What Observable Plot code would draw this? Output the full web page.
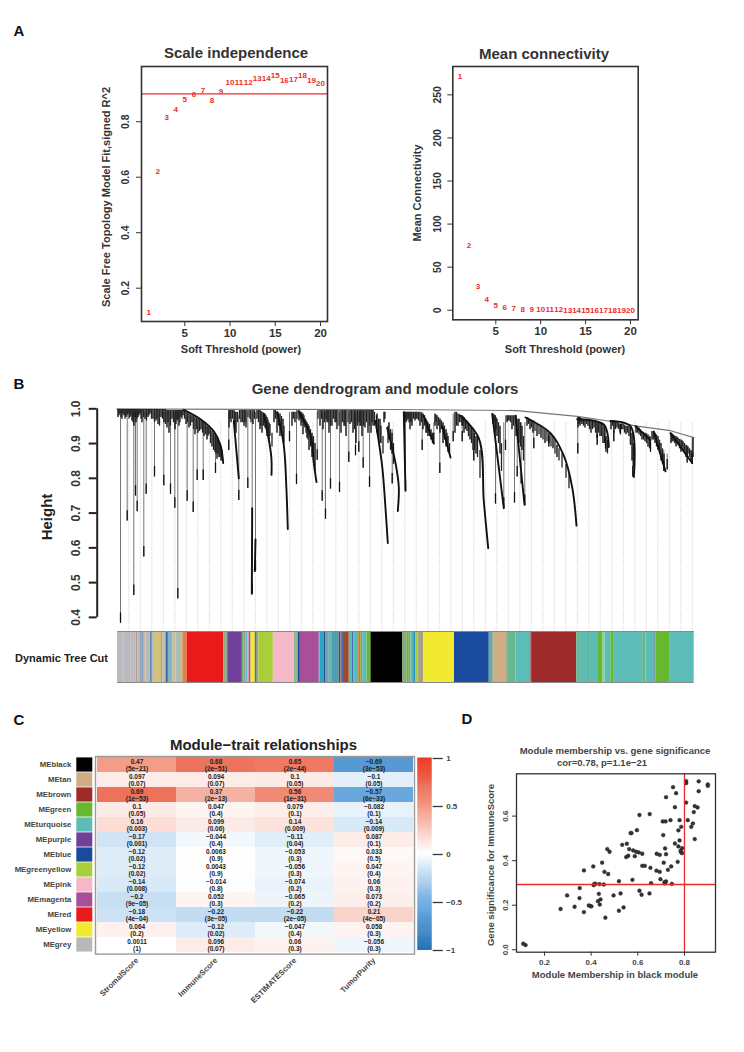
<!DOCTYPE html>
<html>
<head>
<meta charset="utf-8">
<script src="https://cdn.jsdelivr.net/npm/d3@7"></script>
<script src="https://cdn.jsdelivr.net/npm/@observablehq/plot@0.6"></script>
<style>
html,body{margin:0;padding:0;background:#fff}
#page{position:relative;width:744px;height:1052px;overflow:hidden;font-family:"Liberation Sans",Arial,sans-serif;color:#333}
#page svg{position:absolute;overflow:visible;background:transparent}
.t{position:absolute;white-space:nowrap;line-height:1;transform-origin:center}
</style>
</head>
<body>
<div id="page"></div>
<script>
// ---------- Panel A ----------
const powers = [1,2,3,4,5,6,7,8,9,10,11,12,13,14,15,16,17,18,19,20];
const fitR2 = [.113,.62,.817,.843,.881,.90,.912,.875,.909,.941,.943,.943,.957,.955,.966,.947,.953,.966,.949,.937];
const meanK = [271.6,75,28,12.4,5.8,3,2,1.2,.8,.5,.4,.4,.3,.3,.2,.2,.2,.1,.1,.1];

// ---------- Panel B ----------
const moduleHex = {black:"#000000",tan:"#cfae84",brown:"#9e2a2b",green:"#66b82e",turquoise:"#5cbdb8",purple:"#70409a",blue:"#1a4a9e",greenyellow:"#a8cf3a",pink:"#f4b8c8",magenta:"#a84f9a",red:"#ea1a1a",yellow:"#f2ea30",grey:"#b9b9b9"};
const barEdges = [0,5.2,6.2,11.8,13.5,18.5,20.2,22.2,26.8,28.2,32.8,34.8,36.8,44.2,45.2,48.5,50.8,55.2,58.5,60.2,61.8,65.2,69.5,106.2,110.2,124.8,126.2,128.5,130.5,131.8,133.5,137.8,138.8,141.2,155.8,176.8,180.8,182.8,201.8,202.8,206.8,208.5,211.8,214.2,221.8,223.5,225.2,226.8,231.8,235.2,236.2,241.2,243.5,245.2,249.5,253.5,285,289.5,291.8,293.5,296.2,298.5,300.8,301.8,306.2,337,371.8,375.8,389.2,390.8,398.5,413.5,414.2,459.2,464,470,473,480.2,485.2,487.5,493.5,496.8,525.2,528.5,536.2,538.5,552.2,576.8];
const barColors = ["#b9b9b9","#b4a8cc","#b9b9b9","#c7a8a8","#b8bcc4","#b89a8c","#b9b9b9","#8fa8c0","#c9b8a0","#b9b9b9","#5b8fc0","#b9b9b9","#d2c27b","#8a70b0","#c0bfa8","#3f63b0","#7fb8c0","#c7bd9c","#b9b9b9","#78b8b8","#c9b890","#d9854a","#ea1a1a","#8fae86","#70409a","#6fb060","#9a9a9a","#5cbdb8","#d9a0b0","#a84f9a","#f2ea30","#1a4a9e","#9a9a9a","#a8cf3a","#f4b8c8","#90b88a","#1a4a9e","#a84f9a","#5cbdb8","#2aa6c0","#1a4a9e","#7aa0a8","#5cbdb8","#4f9fb0","#9e2a2b","#708090","#1a4a9e","#9e4a2b","#5cbdb8","#1a4a9e","#5cbdb8","#d9742a","#66b82e","#5cbdb8","#66b82e","#000000","#8aa885","#66b82e","#999988","#5cbdb8","#2a8fc0","#a8cf3a","#9a9a80","#a8a080","#f2ea30","#1a4a9e","#6aa8a0","#cfae84","#8a9a80","#66b88a","#5cbdb8","#9e2a2b","#9e2a2b","#6ab89a","#5cbdb8","#66b88a","#5cbdb8","#66b82e","#8fd08a","#5cbdb8","#66b82e","#5cbdb8","#66b88a","#5cbdb8","#7a9aa8","#66b82e","#5cbdb8"];
const guideLeaves = [11.8,23.3,34.8,46.3,57.8,69.3,80.8,92.3,103.8,115.3,126.8,138.3,149.8,161.3,172.8,184.3,195.8,207.3,218.8,230.3,241.8,253.3,264.8,276.3,287.8,299.3,310.8,322.3,333.8,345.3,356.8,368.3,379.8,391.3,402.8,414.3,425.8,437.3,448.8,460.3,471.8,483.3,494.8,506.3,517.8,529.3,540.8,552.3,563.8,575.3];
const envelope = [[0,1],[50,.999],[280,.998],[400,.995],[460.2,.978],[486.8,.967],[520.2,.95],[553.5,.937],[576.8,.917]];
// leaf, lowest height, highest height
const bigDrops = [[3.5,.383,.99],[10.2,.677,.99],[16.8,.463,.99],[18.5,.749,.99],[20.2,.704,.99],[26.8,.574,.99],[29.2,.754,.99],[37.5,.804,.99],[46.8,.779,.99],[53.5,.754,.99],[57.8,.714,.99],[60.8,.453,.99],[70.2,.734,.98],[76.2,.702,.97],[80.2,.794,.97],[86.2,.794,.96],[98.5,.814,.92],[111.8,.88,.99],[121.8,.736,.98],[130.8,.771,.99],[135.2,.468,.99],[138.5,.533,.99],[172.5,.905,.99],[179.5,.782,.99],[200.2,.852,.99],[205.2,.734,.99],[208.5,.682,.99],[213.5,.769,.99],[222.5,.759,.99],[231.8,.846,.99],[238.5,.865,.99],[241.8,.875,.99],[246.2,.829,.99],[252.5,.774,.99],[275.2,.784,.94],[288.5,.764,.99],[305.2,.88,.99],[316.8,.9,.96],[322.8,.814,.97],[336.2,.905,.985],[345.2,.905,.98],[356.8,.85,.93],[378.5,.726,.98],[386.8,.714,.96],[388.5,.88,.98],[397.5,.729,.98],[400.2,.804,.97],[404.2,.784,.96],[407.8,.722,.96],[416.8,.885,.965],[431.8,.89,.93],[460.8,.87,.975],[480.2,.895,.96],[488.5,.885,.95],[496.8,.905,.96],[503.5,.925,.955],[513.5,.895,.948],[515.8,.804,.93],[533.5,.875,.92],[546.8,.82,.88],[550.2,.824,.87],[570.2,.844,.89],[575.2,.84,.914]];
const arms = [
 [[66.8,.997],[83.5,.97],[96.8,.935],[103.5,.895],[106.2,.844]],
 [[160.2,.99],[166.8,.895],[169.5,.764],[170.8,.654]],
 [[181.8,.99],[193.5,.925],[196.8,.844],[199.5,.789]],
 [[116.8,.965],[121.8,.80]],
 [[146.8,.985],[154.2,.865],[154.5,.81]],
 [[135.2,.714],[134.8,.468]],
 [[138.5,.624],[137.8,.533]],
 [[258.5,.965],[265.2,.834],[268.5,.714],[270.8,.614]],
 [[270.2,.945],[278.5,.844],[281.8,.774],[280.8,.706]],
 [[343.5,.98],[361.8,.915],[366.8,.734],[371.2,.599]],
 [[408.5,.975],[433.5,.93],[446.8,.865],[455.2,.774],[459.5,.664]],
 [[306.8,.98],[316.8,.9]],
 [[325.2,.95],[333.5,.86]],
 [[460.2,.97],[486.8,.955],[491.8,.89]],
 [[493.5,.965],[513.5,.95],[516.8,.804]],
 [[518.5,.95],[533.5,.91]],
 [[536.8,.935],[548.5,.82]],
 [[553.5,.93],[575.2,.844]],
 [[375.2,.985],[386.8,.714]],
 [[398.5,.98],[407.5,.724]],
 [[286.8,.99],[288.5,.764]]
];
const fuzz = [[1,.998,.975],[3,.998,.985],[5,.998,.97],[7,.998,.98],[9,.998,.975],[11,.998,.985],[13,.998,.975],[15,.998,.965],[17,.998,.95],[19,.998,.96],[21,.998,.975],[23,.998,.985],[25,.998,.96],[28,.998,.97],[31,.998,.975],[33,.998,.985],[36,.998,.97],[39,.998,.965],[41,.998,.955],[44,.998,.975],[47,.998,.96],[50,.995,.945],[52,.995,.93],[55,.995,.97],[58,.995,.94],[60,.995,.965],[62,.995,.95],[64,.995,.975],[66,.995,.98],
[69,.99,.955],[72,.985,.945],[75,.98,.96],[78,.975,.925],[81,.97,.93],[84,.965,.94],[87,.96,.92],[90,.95,.91],[92,.945,.925],[95,.935,.89],[98,.925,.875],[100,.915,.855],[102,.905,.86],[104,.89,.85],
[112,.995,.945],[114,.995,.96],[117,.995,.955],[119,.99,.93],[124,.995,.96],[127,.995,.95],[129,.995,.945],[133,.995,.97],[136,.995,.955],[140,.995,.97],[143,.995,.94],[145,.99,.93],[148,.985,.945],[150,.975,.92],[152,.96,.905],[157,.995,.96],[160,.99,.93],[163,.985,.92],[166,.97,.91],
[175,.99,.95],[178,.99,.96],[182,.995,.965],[184,.99,.95],[186,.985,.925],[188,.97,.945],[190,.96,.915],[192,.95,.88],[195,.93,.86],[198,.9,.82],
[203,.995,.95],[206,.995,.94],[210,.995,.96],[212,.995,.93],[215,.995,.95],[218,.995,.96],[220,.995,.94],[224,.995,.93],[227,.995,.95],[229,.995,.92],[233,.995,.955],[236,.995,.93],[239,.995,.9],[243,.995,.95],[245,.995,.92],[248,.995,.945],[251,.995,.93],
[254,.995,.93],[256,.995,.95],[260,.985,.93],[263,.97,.9],[267,.99,.96],[272,.96,.91],[275,.93,.87],
[287,.99,.95],[289,.99,.96],[291,.99,.97],[293,.99,.94],[295,.99,.95],[298,.99,.965],[300,.99,.97],[303,.99,.95],[306,.985,.94],[309,.97,.93],[311,.96,.92],[314,.94,.91],[318,.985,.95],[320,.98,.94],[323,.97,.93],[326,.96,.9],[329,.94,.89],[331,.92,.875],
[338,.99,.93],[341,.985,.95],[345,.98,.95],[347,.975,.93],[350,.965,.935],[353,.95,.91],[356,.94,.88],[359,.92,.87],
[376,.985,.955],[378,.98,.93],[380,.97,.92],[383,.95,.87],[390,.98,.96],[392,.98,.965],[395,.98,.94],[399,.98,.92],[402,.97,.9],[405,.95,.88],
[410,.975,.95],[413,.97,.94],[416,.965,.93],[420,.955,.92],[424,.95,.915],[428,.94,.9],[432,.93,.9],[436,.92,.885],[440,.895,.86],
[461,.975,.945],[463,.975,.95],[465,.97,.955],[468,.97,.945],[471,.97,.95],[474,.965,.93],[477,.965,.945],[480,.96,.915],[483,.96,.92],[486,.955,.9],[489,.92,.875],
[494,.965,.94],[497,.965,.93],[500,.96,.945],[503,.955,.93],[506,.955,.94],[509,.95,.925],[512,.95,.92],[515,.93,.85],
[519,.95,.93],[522,.945,.925],[525,.935,.91],[528,.93,.905],[531,.925,.89],[535,.935,.91],[538,.93,.9],[541,.92,.88],[544,.9,.85],[547,.87,.83],
[554,.93,.9],[556,.925,.905],[559,.92,.89],[561,.915,.895],[564,.91,.875],[566,.905,.88],[569,.895,.86],[571,.89,.87],[574,.88,.85],[576,.915,.86]];
const fuzzFine = [[2,.998,.98],[4,.998,.975],[6,.998,.985],[8,.998,.97],[10,.998,.98],[12,.998,.97],[14,.998,.98],[16,.998,.96],[18,.998,.975],[20,.998,.97],[22,.998,.98],[24,.998,.97],[26.5,.998,.975],[29.5,.998,.965],[32,.998,.98],[34.5,.998,.97],[37.5,.998,.96],[40,.998,.97],[42.5,.998,.95],[45.5,.998,.97],[48.5,.998,.955],[51,.995,.96],[53.5,.995,.95],[56.5,.995,.96],[59,.995,.955],[61,.995,.97],[63,.995,.96],[65,.995,.97],[67.5,.992,.97],[70.5,.988,.96],[73.5,.982,.95],[76.5,.978,.94],[79.5,.972,.94],[82.5,.968,.935],[85.5,.962,.93],[88.5,.955,.925],[91,.948,.92],[93.5,.94,.9],[96.5,.93,.88],[99,.92,.87],[101,.91,.87],[103,.9,.86],[105,.88,.85],
[113,.995,.97],[115.5,.995,.97],[118,.99,.945],[120.5,.99,.96],[122.5,.995,.97],[125.5,.995,.96],[128,.995,.96],[131,.995,.975],[134,.995,.96],[137.5,.995,.97],[141.5,.995,.96],[144,.992,.95],[146.5,.988,.95],[149,.98,.94],[151,.968,.93],[153,.955,.92],[155,.93,.89],[158.5,.995,.97],[161.5,.988,.95],[164.5,.978,.93],[167,.95,.9],
[176.5,.99,.97],[180,.995,.97],[183,.992,.97],[185,.988,.96],[187,.98,.95],[189,.965,.93],[191,.955,.91],[193.5,.94,.89],[196.5,.92,.85],
[201,.995,.97],[204.5,.995,.97],[207.5,.995,.96],[209,.995,.97],[211,.995,.96],[213.5,.995,.95],[216.5,.995,.97],[219,.995,.96],[222,.995,.95],[225.5,.995,.96],[228,.995,.95],[231,.995,.96],[234.5,.995,.96],[237.5,.995,.94],[240.5,.995,.95],[242,.995,.96],[244,.995,.95],[246.5,.995,.95],[249.5,.995,.96],[252.5,.995,.95],
[255,.995,.96],[257.5,.99,.95],[259.5,.98,.94],[261.5,.97,.92],[264,.95,.9],[266,.92,.87],[268,.99,.97],[271,.95,.9],[273.5,.94,.88],[276.5,.9,.84],
[288,.99,.97],[290,.99,.965],[292,.99,.96],[294,.99,.96],[296.5,.99,.97],[299,.99,.97],[301.5,.99,.965],[304.5,.988,.96],[307.5,.98,.95],[310,.965,.93],[312.5,.955,.92],[315.5,.93,.9],[319,.982,.96],[321.5,.975,.95],[324.5,.965,.94],[327.5,.95,.91],[330,.93,.89],[332.5,.9,.87],
[339.5,.99,.95],[342.5,.983,.96],[344,.98,.96],[346,.978,.95],[348.5,.97,.94],[351.5,.96,.92],[354.5,.945,.9],[357.5,.93,.88],[360.5,.92,.86],[363,.88,.8],
[377,.983,.96],[379,.975,.94],[381.5,.96,.9],[384.5,.9,.82],[391,.98,.965],[393.5,.98,.96],[396.5,.98,.95],[401,.97,.92],[403.5,.96,.89],[406.5,.92,.85],
[411.5,.973,.955],[414.5,.967,.945],[418,.96,.935],[422,.953,.925],[426,.945,.91],[430,.935,.905],[434,.925,.89],[438,.91,.87],[442,.885,.85],[445,.87,.83],[449,.84,.8],[452,.81,.77],
[462,.975,.955],[464,.972,.96],[466.5,.97,.95],[469.5,.97,.955],[472.5,.968,.94],[475.5,.965,.94],[478.5,.962,.93],[481.5,.96,.93],[484.5,.958,.92],[487.5,.95,.9],[490.5,.91,.87],
[495.5,.965,.95],[498.5,.962,.94],[501.5,.958,.94],[504.5,.955,.94],[507.5,.952,.93],[510.5,.95,.93],[513.5,.945,.9],[516.5,.9,.83],
[520.5,.948,.93],[523.5,.94,.92],[526.5,.932,.91],[529.5,.928,.9],[532.5,.92,.885],[536.5,.932,.91],[539.5,.925,.89],[542.5,.91,.87],[545.5,.885,.84],
[555,.928,.905],[557.5,.922,.9],[560,.918,.9],[562.5,.912,.885],[565,.908,.89],[567.5,.9,.87],[570,.893,.875],[572.5,.885,.86],[575,.875,.845]];

// ---------- Panel C ----------
const modules = ["MEblack","MEtan","MEbrown","MEgreen","MEturquoise","MEpurple","MEblue","MEgreenyellow","MEpink","MEmagenta","MEred","MEyellow","MEgrey"];
const traits = ["StromalScore","ImmuneScore","ESTIMATEScore","TumorPurity"];
const corStromal = [.47,.097,.69,.1,.16,-.17,-.12,-.12,-.14,-.2,-.18,.064,.0011];
const corImmune = [.68,.094,.37,.047,.099,-.044,.0063,.0043,-.014,.052,-.22,-.12,.096];
const corEstimate = [.65,.1,.56,.079,.14,-.11,-.053,-.056,-.074,-.065,-.22,-.047,.06];
const corPurity = [-.69,-.1,-.57,-.082,-.14,.087,.033,.047,.06,.073,.21,.058,-.056];
const pStromal = ["5e−21","0.07","1e−53","0.05","0.003","0.001","0.02","0.02","0.008","9e−05","4e−04","0.2","1"];
const pImmune = ["2e−51","0.07","2e−13","0.4","0.06","0.4","0.9","0.9","0.8","0.3","3e−05","0.02","0.07"];
const pEstimate = ["2e−44","0.05","1e−31","0.1","0.009","0.04","0.3","0.3","0.2","0.2","2e−05","0.4","0.3"];
const pPurity = ["3e−53","0.05","6e−33","0.1","0.009","0.1","0.5","0.4","0.3","0.2","4e−05","0.3","0.3"];

// ---------- Panel D ----------
const mmBlack = [.109,.119,.269,.297,.329,.351,.35,.369,.369,.39,.397,.401,.409,.414,.419,.411,.436,.433,.429,.44,.437,.454,.447,.457,.473,.461,.469,.479,.496,.519,.519,.526,.539,.533,.553,.55,.559,.563,.569,.573,.577,.58,.587,.593,.596,.604,.619,.607,.607,.616,.619,.63,.651,.65,.654,.657,.68,.681,.694,.694,.697,.709,.707,.719,.711,.716,.721,.714,.717,.721,.721,.729,.74,.743,.746,.751,.759,.759,.764,.771,.774,.779,.779,.774,.783,.786,.79,.79,.786,.807,.807,.807,.814,.829,.836,.84,.844,.844,.856,.861,.861,.9,.9];
const gsImmune = [.027,.021,.183,.244,.193,.277,.232,.169,.356,.199,.196,.195,.374,.296,.296,.29,.295,.251,.218,.226,.203,.293,.391,.35,.34,.144,.452,.44,.244,.308,.175,.253,.19,.471,.476,.416,.422,.452,.524,.524,.314,.446,.42,.44,.537,.437,.431,.605,.265,.247,.377,.377,.609,.253,.368,.299,.355,.431,.426,.35,.317,.515,.576,.576,.391,.298,.307,.304,.455,.429,.685,.359,.582,.374,.296,.73,.64,.477,.703,.395,.536,.582,.491,.464,.444,.437,.456,.434,.552,.757,.748,.661,.582,.552,.567,.618,.497,.645,.639,.756,.712,.742,.736];

// ---------- helpers ----------
const page = document.getElementById("page");
const FONT = '"Liberation Sans",Arial,sans-serif';
const INK = "#333";
function place(node,left,top){node.style.left=left+"px";node.style.top=top+"px";page.appendChild(node);}
function label(str,cx,cy,size,weight=700,rot=0,color=INK){
  const d=document.createElement("div");d.className="t";d.textContent=str;
  d.style.left=cx+"px";d.style.top=cy+"px";d.style.fontSize=size+"px";d.style.fontWeight=weight;d.style.color=color;
  d.style.transform=`translate(-50%,-50%) rotate(${rot}deg)`;page.appendChild(d);
}
const base = {style:{fontFamily:FONT,color:INK,background:"transparent"}};

// Panel letters
label("A",19,30,15,700,0,"#111");
label("B",19,383,15,700,0,"#111");
label("C",19,719,15,700,0,"#111");
label("D",467,718,15,700,0,"#111");

// ---------- A left ----------
const r2rows = powers.map((p,i)=>({p,v:fitR2[i]}));
place(Plot.plot({...base,width:250,height:300,marginLeft:51,marginRight:13,marginTop:6,marginBottom:39,
  x:{domain:[.215,20.77]},y:{domain:[.08,.999]},
  marks:[
    Plot.axisX({ticks:[5,10,15,20],tickSize:5,tickPadding:2.5,label:null,fontSize:11.5,fontWeight:700,stroke:INK}),
    Plot.axisY({ticks:[.2,.4,.6,.8],tickSize:5,tickPadding:8,tickRotate:-90,label:null,fontSize:10.5,fontWeight:700,stroke:INK}),
    Plot.ruleY([.9],{stroke:"#ee2b2b",strokeWidth:1.3}),
    Plot.text(r2rows,{x:"p",y:"v",text:"p",fill:"#ee2b2b",fontSize:8,fontWeight:700}),
    Plot.frame({stroke:"#333",strokeWidth:1.6})
  ]}),90,60);
label("Scale independence",236,52,15);
label("Soft Threshold (power)",241,348.5,11);
label("Scale Free Topology Model Fit,signed R^2",106,197,11,700,-90);

// ---------- A right ----------
const kRows = powers.map((p,i)=>({p,v:meanK[i]}));
place(Plot.plot({...base,width:250,height:300,marginLeft:52.3,marginRight:12.3,marginTop:6,marginBottom:40.7,
  x:{domain:[.21,20.86]},y:{domain:[-11.1,282.9]},
  marks:[
    Plot.axisX({ticks:[5,10,15,20],tickSize:5,tickPadding:2.5,label:null,fontSize:11.5,fontWeight:700,stroke:INK}),
    Plot.axisY({ticks:[0,50,100,150,200,250],tickSize:5,tickPadding:7,tickRotate:-90,label:null,fontSize:10.5,fontWeight:700,stroke:INK}),
    Plot.text(kRows,{x:"p",y:"v",text:"p",fill:"#ee2b2b",fontSize:8,fontWeight:700}),
    Plot.frame({stroke:"#333",strokeWidth:1.6})
  ]}),400,60);
label("Mean connectivity",544,53,15);
label("Soft Threshold (power)",565,348.5,11);
label("Mean Connectivity",417,193,11,700,-90);

// ---------- B dendrogram ----------
const armRows = arms.flatMap((a,k)=>a.map(([x,h])=>({k,x,h})));
const leafMin=-19.8, leafMax=576.8;
place(Plot.plot({...base,width:744-60,height:240,marginLeft:36.7,marginRight:50.7,marginTop:8.3,marginBottom:3.3,
  x:{domain:[leafMin,leafMax],axis:null},y:{domain:[.343,1]},
  marks:[
    Plot.axisY({ticks:[.4,.5,.6,.7,.8,.9,1],tickFormat:d3.format(".1f"),tickSize:8,tickPadding:9,tickRotate:-90,label:null,fontSize:12,fontWeight:700,stroke:"#222",strokeWidth:2}),
    Plot.ruleX([leafMin],{y1:.4,y2:1,stroke:"#222",strokeWidth:2}),
    Plot.ruleX(guideLeaves,{y1:.343,y2:.96,stroke:"#c4c4c4",strokeWidth:.8,strokeDasharray:"1.2,1.4"}),
    Plot.line(envelope,{x:"0",y:"1",stroke:"#777",strokeWidth:1.2}),
    Plot.ruleX(bigDrops,{x:"0",y1:"2",y2:"1",stroke:"#666",strokeWidth:.9}),
    Plot.ruleX(bigDrops,{x:"0",y1:d=>d[1]+.03,y2:"1",stroke:"#111",strokeWidth:1.3}),
    Plot.ruleX(fuzzFine,{x:"0",y1:"1",y2:"2",stroke:"#222",strokeWidth:1.3}),
    Plot.ruleX(fuzz,{x:"0",y1:"1",y2:"2",stroke:"#111",strokeWidth:1.4}),
    Plot.line(armRows,{x:"x",y:"h",z:"k",stroke:"#111",strokeWidth:1.9,curve:"catmull-rom"})
  ]}),60,400);
label("Gene dendrogram and module colors",385,388,15);
label("Height",46,517,15,700,-90,"#222");

// color bar
const barRows = barColors.map((c,i)=>({x1:barEdges[i],x2:barEdges[i+1],c}));
place(Plot.plot({...base,width:576.8,height:51,margin:0,
  x:{domain:[0,576.8],axis:null},y:{domain:[0,1],axis:null},color:{type:"identity"},
  marks:[
    Plot.rect(barRows,{x1:"x1",x2:"x2",y1:0,y2:1,fill:"c"}),
    Plot.ruleY([0,1],{stroke:"#8a8a8a",strokeWidth:1.2})
  ]}),116.5,630.7);
label("Dynamic Tree Cut",61.5,658,11,700,0,"#222");

// ---------- C heatmap ----------
const colorCfg = {type:"linear",domain:[-1,-.5,0,.5,1],range:["#2474ba","#74b0e2","#ffffff","#f29680","#e8351c"],interpolate:"rgb"};
const allCor=[corStromal,corImmune,corEstimate,corPurity], allP=[pStromal,pImmune,pEstimate,pPurity];
const fmtCor = v=>(v<0?"−":"")+String(Math.abs(v));
const heatRows = traits.flatMap((t,j)=>modules.map((m,i)=>({t,m,v:allCor[j][i],label:fmtCor(allCor[j][i])+"\n("+allP[j][i]+")"})));
place(Plot.plot({...base,width:319,height:197.6+50,marginLeft:0,marginRight:0,marginTop:0,marginBottom:50,
  x:{domain:traits,padding:0,label:null},y:{domain:modules,padding:0,axis:null},color:colorCfg,
  marks:[
    Plot.cell(heatRows,{x:"t",y:"m",fill:"v"}),
    Plot.text(heatRows,{x:"t",y:"m",text:"label",fontSize:6.5,fontWeight:700,fill:"#222",lineHeight:1.15}),
    Plot.axisX({tickSize:0,tickPadding:5,tickRotate:-45,label:null,fontSize:7.8,fontWeight:700,fill:"#444"}),
    Plot.frame({stroke:"#9a9a9a",strokeWidth:1.4})
  ]}),95,755.7);
label("Module−trait relationships",263.5,744,15,700,0,"#222");

// module color strip with labels
const stripRows = modules.map(m=>({m,c:moduleHex[m.slice(2)]}));
place(Plot.plot({...base,width:92.3,height:197.6,marginLeft:76.3,marginRight:0,marginTop:0,marginBottom:0,
  x:{axis:null},y:{domain:modules,padding:0,label:null},color:{type:"identity"},
  marks:[
    Plot.cell(stripRows,{y:"m",fill:"c",insetTop:.4,insetBottom:.4}),
    Plot.axisY({tickSize:0,tickPadding:5.5,label:null,fontSize:7.8,fontWeight:700,fill:"#444"})
  ]}),0,755.7);

// color legend
const legendSteps = d3.range(-1,1,.02).map(v=>({v,v2:v+.02}));
place(Plot.plot({...base,width:70,height:192,marginLeft:7.3,marginRight:48.3,marginTop:0,marginBottom:0,
  x:{axis:null,domain:[0,1]},y:{domain:[-1,1],label:null},color:colorCfg,
  marks:[
    Plot.rect(legendSteps,{x1:0,x2:1,y1:"v",y2:d=>d.v2+.005,fill:"v"}),
    Plot.axisY({anchor:"right",ticks:[-1,-.5,0,.5,1],tickFormat:v=>fmtCor(v),tickSize:10,tickPadding:4,label:null,fontSize:8,fontWeight:700,fill:"#444",stroke:"#333",strokeWidth:1.3})
  ]}),410,758.2);

// ---------- D scatter ----------
const pts = mmBlack.map((x,i)=>({x,y:gsImmune[i]}));
place(Plot.plot({...base,width:240,height:195,marginLeft:36,marginRight:5,marginTop:3.3,marginBottom:13.3,
  x:{domain:[.08,.933]},y:{domain:[-.011,.79]},
  marks:[
    Plot.axisX({ticks:[.2,.4,.6,.8],tickFormat:d3.format(".1f"),tickSize:4,tickPadding:3,label:null,fontSize:8,fontWeight:700,fill:"#444",stroke:INK}),
    Plot.axisY({ticks:[0,.2,.4,.6],tickFormat:d3.format(".1f"),tickSize:4,tickPadding:5,tickRotate:-90,label:null,fontSize:8,fontWeight:700,fill:"#444",stroke:INK}),
    Plot.dot(pts,{x:"x",y:"y",r:1.9,fill:"#333",stroke:"#222",strokeWidth:.4}),
    Plot.ruleY([.293],{stroke:"#ee2b2b",strokeWidth:1.3}),
    Plot.ruleX([.8],{stroke:"#ee2b2b",strokeWidth:1.3}),
    Plot.frame({stroke:"#333",strokeWidth:1.3})
  ]}),480,770);
label("Module membership vs. gene significance",615,751,9.5,700,0,"#444");
label("cor=0.78, p=1.1e−21",602,762.5,9.5,700,0,"#444");
label("Module Membership in black module",615,975,9.5,700,0,"#444");
label("Gene significance for  ImmuneScore",491,865,9.5,700,-90,"#444");
</script>
</body>
</html>
